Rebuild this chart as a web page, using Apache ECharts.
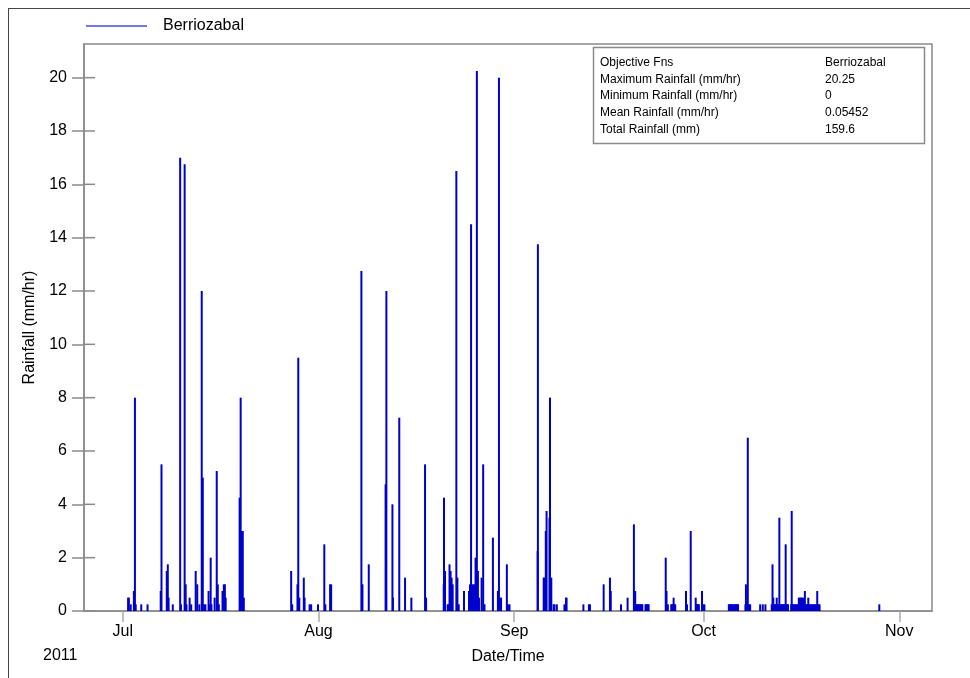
<!DOCTYPE html>
<html>
<head>
<meta charset="utf-8">
<script src="https://cdn.jsdelivr.net/npm/echarts@6/dist/echarts.min.js"></script>
<style>
html,body{margin:0;padding:0;background:#fff;}
#chart{width:970px;height:678px;}
</style>
</head>
<body>
<div id="chart"></div>
<script>
// ---------------- DATA ----------------
const seriesName = 'Berriozabal';
const rainTimes = [
'2011-07-01 20:00','2011-07-01 23:00','2011-07-02 06:00','2011-07-02 18:00','2011-07-02 22:00','2011-07-03 01:00',
'2011-07-03 22:00','2011-07-04 22:00','2011-07-07 00:00','2011-07-07 03:00','2011-07-07 23:00','2011-07-08 03:00',
'2011-07-08 06:00','2011-07-08 22:00','2011-07-10 02:00','2011-07-10 05:00','2011-07-10 19:00','2011-07-10 23:00',
'2011-07-11 02:00','2011-07-11 14:00','2011-07-11 20:00','2011-07-12 13:00','2011-07-12 19:00','2011-07-13 03:00',
'2011-07-13 12:00','2011-07-13 16:00','2011-07-13 21:00','2011-07-14 02:00','2011-07-14 14:00','2011-07-14 18:00',
'2011-07-14 22:00','2011-07-15 01:00','2011-07-15 13:00','2011-07-15 21:00','2011-07-16 01:00','2011-07-16 05:00',
'2011-07-16 19:00','2011-07-17 00:00','2011-07-17 04:00','2011-07-17 07:00','2011-07-19 12:00','2011-07-19 16:00',
'2011-07-19 20:00','2011-07-20 00:00','2011-07-20 04:00','2011-07-27 16:00','2011-07-27 20:00','2011-07-28 16:00',
'2011-07-28 19:00','2011-07-28 23:00','2011-07-29 16:00','2011-07-29 19:00','2011-07-30 14:00','2011-07-30 20:00',
'2011-07-31 22:00',
'2011-08-01 22:00','2011-08-02 02:00','2011-08-02 20:00','2011-08-03 00:00','2011-08-07 19:00','2011-08-07 23:00',
'2011-08-08 23:00','2011-08-11 15:00','2011-08-11 18:00','2011-08-12 17:00','2011-08-12 19:00','2011-08-13 19:00',
'2011-08-14 17:00','2011-08-15 17:00','2011-08-17 21:00','2011-08-18 01:00','2011-08-20 20:00','2011-08-20 21:00',
'2011-08-21 01:00','2011-08-21 11:00','2011-08-21 15:00','2011-08-21 18:00','2011-08-21 22:00','2011-08-22 02:00',
'2011-08-22 06:00','2011-08-22 20:00','2011-08-23 00:00','2011-08-23 05:00','2011-08-24 01:00','2011-08-24 20:00',
'2011-08-25 00:00','2011-08-25 04:00','2011-08-25 11:00','2011-08-25 16:00','2011-08-25 21:00','2011-08-26 02:00',
'2011-08-26 06:00','2011-08-26 10:00','2011-08-26 20:00','2011-08-27 02:00','2011-08-27 07:00','2011-08-28 15:00',
'2011-08-29 10:00','2011-08-29 14:00','2011-08-29 18:00','2011-08-29 22:00','2011-08-30 20:00','2011-08-31 00:00',
'2011-08-31 06:00',
'2011-09-04 17:00','2011-09-04 18:00','2011-09-05 16:00','2011-09-05 18:00','2011-09-06 00:00','2011-09-06 03:00',
'2011-09-06 14:00','2011-09-06 16:00','2011-09-06 21:00','2011-09-07 06:00','2011-09-07 09:00','2011-09-07 18:00',
'2011-09-08 23:00','2011-09-09 05:00','2011-09-09 07:00','2011-09-11 23:00','2011-09-12 20:00','2011-09-13 00:00',
'2011-09-15 04:00','2011-09-16 04:00','2011-09-16 07:00','2011-09-17 22:00','2011-09-18 23:00','2011-09-19 23:00',
'2011-09-20 04:00','2011-09-20 07:00','2011-09-20 10:00','2011-09-20 13:00','2011-09-20 16:00','2011-09-20 19:00',
'2011-09-20 22:00','2011-09-21 01:00','2011-09-21 04:00','2011-09-21 07:00','2011-09-21 19:00','2011-09-21 22:00',
'2011-09-22 01:00','2011-09-22 04:00','2011-09-22 07:00','2011-09-25 00:00','2011-09-25 03:00','2011-09-25 08:00',
'2011-09-25 21:00','2011-09-26 00:00','2011-09-26 03:00','2011-09-26 06:00','2011-09-26 09:00','2011-09-26 12:00',
'2011-09-28 05:00','2011-09-28 09:00','2011-09-28 23:00','2011-09-29 18:00','2011-09-29 21:00','2011-09-30 00:00',
'2011-09-30 03:00','2011-09-30 06:00','2011-09-30 18:00','2011-09-30 22:00','2011-10-01 03:00',
'2011-10-05 00:00','2011-10-05 03:00','2011-10-05 06:00','2011-10-05 09:00','2011-10-05 12:00','2011-10-05 15:00',
'2011-10-05 20:00','2011-10-05 23:00','2011-10-06 02:00','2011-10-06 05:00','2011-10-06 08:00','2011-10-06 11:00',
'2011-10-07 15:00','2011-10-07 17:00','2011-10-08 00:00','2011-10-08 05:00','2011-10-08 09:00','2011-10-09 23:00',
'2011-10-10 09:00','2011-10-10 19:00',
'2011-10-11 19:00','2011-10-11 22:00','2011-10-12 01:00','2011-10-12 04:00','2011-10-12 07:00','2011-10-12 10:00',
'2011-10-12 14:00','2011-10-12 16:00','2011-10-12 19:00','2011-10-12 22:00','2011-10-13 00:00','2011-10-13 03:00',
'2011-10-13 06:00','2011-10-13 09:00','2011-10-13 12:00','2011-10-13 15:00','2011-10-13 18:00','2011-10-13 21:00',
'2011-10-14 00:00','2011-10-14 03:00','2011-10-14 06:00','2011-10-14 09:00',
'2011-10-14 21:00','2011-10-14 23:00','2011-10-15 01:00','2011-10-15 05:00','2011-10-15 09:00','2011-10-15 13:00',
'2011-10-15 17:00','2011-10-15 21:00','2011-10-16 01:00','2011-10-16 02:00','2011-10-16 05:00','2011-10-16 06:00',
'2011-10-16 09:00','2011-10-16 10:00','2011-10-16 13:00','2011-10-16 14:00','2011-10-16 17:00','2011-10-16 19:00',
'2011-10-16 21:00','2011-10-17 01:00','2011-10-17 05:00','2011-10-17 09:00','2011-10-17 13:00','2011-10-17 14:00',
'2011-10-17 17:00','2011-10-17 21:00','2011-10-18 01:00','2011-10-18 05:00','2011-10-18 09:00','2011-10-18 13:00',
'2011-10-18 17:00','2011-10-18 21:00','2011-10-19 00:00','2011-10-19 01:00','2011-10-19 05:00','2011-10-19 09:00',
'2011-10-28 20:00'
];
const rainValues = [
0.5,0.5,0.25,0.75,8.0,0.25,
0.25,0.25,0.75,5.5,1.5,1.75,
0.5,0.25,17.0,0.25,16.75,1.0,
0.25,0.5,0.25,1.5,1.0,0.25,
12.0,5.0,0.25,0.25,0.75,0.25,
2.0,0.25,0.5,5.25,1.0,0.25,
0.75,1.0,1.0,0.5,4.25,8.0,
3.0,3.0,0.5,1.5,0.25,1.0,
9.5,0.5,1.25,0.5,0.25,0.25,
0.25,
2.5,0.25,1.0,1.0,12.75,1.0,
1.75,4.75,12.0,4.0,0.5,7.25,
1.25,0.5,5.5,0.5,1.0,4.25,
1.5,0.25,0.25,1.75,1.5,1.25,
1.0,16.5,1.25,0.25,0.75,0.75,
1.0,14.5,1.0,1.0,2.0,20.25,
1.5,0.5,1.25,5.5,0.25,2.75,
0.75,20.0,0.5,0.5,1.75,0.25,
0.25,
2.25,13.75,1.25,1.25,3.0,3.75,
3.5,8.0,1.25,0.25,0.25,0.25,
0.25,0.5,0.5,0.25,0.25,0.25,
1.0,1.25,0.75,0.25,0.5,3.25,
0.75,0.25,0.25,0.25,0.25,0.25,
0.25,0.25,0.25,0.25,0.25,0.25,
0.25,0.25,0.25,2.0,0.75,0.25,
0.25,0.25,0.25,0.5,0.25,0.25,
0.75,0.25,3.0,0.5,0.25,0.25,
0.25,0.25,0.75,0.25,0.25,
0.25,0.25,0.25,0.25,0.25,0.25,
0.25,0.25,0.25,0.25,0.25,0.25,
0.25,1.0,6.5,0.25,0.25,0.25,
0.25,0.25,
0.25,1.75,0.5,0.25,0.25,0.25,
0.5,0.25,0.25,0.25,3.5,0.25,
0.25,0.25,0.25,0.25,0.25,0.25,
2.5,0.25,0.25,0.25,
0.25,3.75,0.25,0.25,0.25,0.25,
0.25,0.25,0.25,0.5,0.25,0.5,
0.25,0.5,0.25,0.5,0.25,0.5,
0.25,0.75,0.25,0.25,0.25,0.5,
0.25,0.25,0.25,0.25,0.25,0.25,
0.25,0.25,0.75,0.25,0.25,0.25,
0.25
];
const yTicks = [0, 2, 4, 6, 8, 10, 12, 14, 16, 18, 20];
const yMax = 21.2625;
const monthTickDates = ['2011-07-01', '2011-08-01', '2011-09-01', '2011-10-01', '2011-11-01'];
const monthLabels = ['Jul', 'Aug', 'Sep', 'Oct', 'Nov'];
const xMinDate = '2011-06-24 20:24';
const xMaxDate = '2011-11-06 04:20';
const yearLabel = '2011';
const xAxisTitle = 'Date/Time';
const yAxisTitle = 'Rainfall (mm/hr)';
const statNames = ['Objective Fns', 'Maximum Rainfall (mm/hr)', 'Minimum Rainfall (mm/hr)', 'Mean Rainfall (mm/hr)', 'Total Rainfall (mm)'];
const statValues = ['Berriozabal', '20.25', '0', '0.05452', '159.6'];

// ---------------- HELPERS ----------------
function ts(s) {
  const parts = s.split(' ');
  const d = parts[0].split('-').map(Number);
  let h = 0, m = 0;
  if (parts[1]) { const t = parts[1].split(':').map(Number); h = t[0]; m = t[1]; }
  return Date.UTC(d[0], d[1] - 1, d[2], h, m);
}
const monthTickTs = monthTickDates.map(ts);
const xMinTs = ts(xMinDate);
const seriesData = rainTimes.map((t, i) => [ts(t), rainValues[i]]);
const innerTickData = yTicks.map(v => [xMinTs, v]);

const FONT = 'Liberation Sans, Arial, Helvetica, sans-serif';
const AXIS_GRAY = '#8a8a8a';
const INNER_TICK_LEN = 11;

const statGraphics = [];
statGraphics.push({
  type: 'rect', z: 50,
  shape: { x: 593.5, y: 47.5, width: 331, height: 96 },
  style: { fill: '#fff', stroke: '#8a8a8a', lineWidth: 1.5 }
});
const rowY = [62.5, 79.2, 95.9, 112.6, 129.3];
statNames.forEach((n, i) => {
  statGraphics.push({ type: 'text', z: 51, x: 600, y: rowY[i],
    style: { text: n, fill: '#000', font: '12px ' + FONT, textVerticalAlign: 'middle' } });
  statGraphics.push({ type: 'text', z: 51, x: 825, y: rowY[i],
    style: { text: statValues[i], fill: '#000', font: '12px ' + FONT, textVerticalAlign: 'middle' } });
});

const chart = echarts.init(document.getElementById('chart'), null, { renderer: 'canvas' });
chart.setOption({
  animation: false,
  backgroundColor: '#fff',
  textStyle: { fontFamily: FONT },
  grid: {
    left: 84, top: 44, right: 38, bottom: 67,
    show: true, borderColor: AXIS_GRAY, borderWidth: 1.5, backgroundColor: 'transparent',
    containLabel: false, outerBoundsMode: 'none'
  },
  legend: {
    show: true, left: 86, top: 18, padding: 0,
    icon: 'rect', itemWidth: 61, itemHeight: 1.5,
    data: [{ name: seriesName, itemStyle: { color: '#4a4ad8' } }],
    textStyle: { fontSize: 16, color: '#000', fontFamily: FONT, padding: [0, 0, 0, 11] }
  },
  xAxis: {
    type: 'value',
    min: xMinTs, max: ts(xMaxDate),
    axisLine: { show: true, onZero: false, lineStyle: { color: AXIS_GRAY, width: 1.5 } },
    axisTick: { show: true, length: 11, customValues: monthTickTs, lineStyle: { color: '#aaa', width: 1.5 } },
    axisLabel: {
      show: true, customValues: monthTickTs, margin: 13, fontSize: 16, color: '#000', fontFamily: FONT,
      formatter: function (v) {
        let best = 0, bd = Infinity;
        monthTickTs.forEach((t, i) => { const d = Math.abs(t - v); if (d < bd) { bd = d; best = i; } });
        return monthLabels[best];
      }
    },
    splitLine: { show: false },
    name: xAxisTitle, nameLocation: 'middle', nameGap: 38,
    nameTextStyle: { fontSize: 16, color: '#000', fontFamily: FONT }
  },
  yAxis: {
    type: 'value', min: 0, max: yMax, position: 'left',
    axisLine: { show: true, onZero: false, lineStyle: { color: AXIS_GRAY, width: 1.5 } },
    axisTick: { show: true, length: 12, customValues: yTicks, lineStyle: { color: AXIS_GRAY, width: 1.5 } },
    axisLabel: { show: true, customValues: yTicks, margin: 17, fontSize: 16, color: '#000', fontFamily: FONT },
    splitLine: { show: false },
    name: yAxisTitle, nameLocation: 'middle', nameGap: 46,
    nameTextStyle: { fontSize: 16, color: '#000', fontFamily: FONT }
  },
  series: [{
    name: seriesName,
    type: 'bar',
    barWidth: 2,
    itemStyle: { color: '#0000cc' },
    emphasis: { disabled: true },
    data: seriesData
  }, {
    // inner halves of the y-axis ticks (ticks cross the axis line in the original)
    name: 'innerTicks',
    type: 'custom',
    silent: true,
    clip: false,
    z: 5,
    data: innerTickData,
    renderItem: function (params, api) {
      const p = api.coord([api.value(0), api.value(1)]);
      return {
        type: 'line',
        shape: { x1: p[0], y1: p[1], x2: p[0] + INNER_TICK_LEN, y2: p[1] },
        style: { stroke: AXIS_GRAY, lineWidth: 1.5 }
      };
    }
  }],
  graphic: [
    { type: 'line', z: 40, shape: { x1: 8, y1: 8.5, x2: 970, y2: 8.5 }, style: { stroke: '#444', lineWidth: 1 } },
    { type: 'line', z: 40, shape: { x1: 8.5, y1: 8, x2: 8.5, y2: 678 }, style: { stroke: '#444', lineWidth: 1 } },
    { type: 'text', z: 40, x: 43, y: 656, style: { text: yearLabel, fill: '#000', font: '16px ' + FONT, textVerticalAlign: 'middle' } }
  ].concat(statGraphics)
});
</script>
</body>
</html>
